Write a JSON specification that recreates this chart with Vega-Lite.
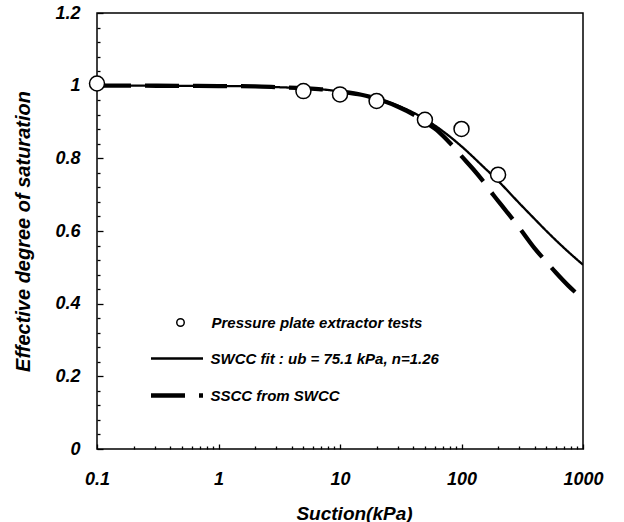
{
  "$schema": "https://vega.github.io/schema/vega-lite/v6.json",
  "width": 486,
  "height": 436,
  "autosize": {"type": "none"},
  "padding": {"left": 97, "top": 13, "right": 41, "bottom": 73},
  "background": "white",
  "config": {
    "view": {"stroke": "black", "strokeWidth": 1.5},
    "font": "Liberation Sans",
    "axis": {
      "grid": false,
      "domain": false,
      "tickColor": "black",
      "tickWidth": 1.3,
      "labelFont": "Liberation Sans",
      "labelFontStyle": "italic",
      "labelFontWeight": "bold",
      "labelFontSize": 18,
      "labelColor": "black",
      "titleFont": "Liberation Sans",
      "titleFontStyle": "italic",
      "titleFontWeight": "bold",
      "titleFontSize": 19,
      "titleColor": "black"
    },
    "legend": {
      "labelFont": "Liberation Sans",
      "labelFontStyle": "italic",
      "labelFontWeight": "bold",
      "labelFontSize": 15,
      "labelColor": "black",
      "labelLimit": 400,
      "padding": 0
    }
  },
  "datasets": {
    "curves": [
      {"suction": 0.1, "se": 1.0, "series": "SWCC fit : ub = 75.1 kPa, n=1.26"},
      {"suction": 0.2, "se": 0.9999, "series": "SWCC fit : ub = 75.1 kPa, n=1.26"},
      {"suction": 0.5, "se": 0.9996, "series": "SWCC fit : ub = 75.1 kPa, n=1.26"},
      {"suction": 1, "se": 0.999, "series": "SWCC fit : ub = 75.1 kPa, n=1.26"},
      {"suction": 2, "se": 0.998, "series": "SWCC fit : ub = 75.1 kPa, n=1.26"},
      {"suction": 3, "se": 0.996, "series": "SWCC fit : ub = 75.1 kPa, n=1.26"},
      {"suction": 5, "se": 0.993, "series": "SWCC fit : ub = 75.1 kPa, n=1.26"},
      {"suction": 7, "se": 0.99, "series": "SWCC fit : ub = 75.1 kPa, n=1.26"},
      {"suction": 10, "se": 0.984, "series": "SWCC fit : ub = 75.1 kPa, n=1.26"},
      {"suction": 15, "se": 0.975, "series": "SWCC fit : ub = 75.1 kPa, n=1.26"},
      {"suction": 20, "se": 0.965, "series": "SWCC fit : ub = 75.1 kPa, n=1.26"},
      {"suction": 30, "se": 0.945, "series": "SWCC fit : ub = 75.1 kPa, n=1.26"},
      {"suction": 40, "se": 0.926, "series": "SWCC fit : ub = 75.1 kPa, n=1.26"},
      {"suction": 50, "se": 0.908, "series": "SWCC fit : ub = 75.1 kPa, n=1.26"},
      {"suction": 70, "se": 0.875, "series": "SWCC fit : ub = 75.1 kPa, n=1.26"},
      {"suction": 100, "se": 0.833, "series": "SWCC fit : ub = 75.1 kPa, n=1.26"},
      {"suction": 150, "se": 0.778, "series": "SWCC fit : ub = 75.1 kPa, n=1.26"},
      {"suction": 200, "se": 0.738, "series": "SWCC fit : ub = 75.1 kPa, n=1.26"},
      {"suction": 300, "se": 0.676, "series": "SWCC fit : ub = 75.1 kPa, n=1.26"},
      {"suction": 400, "se": 0.633, "series": "SWCC fit : ub = 75.1 kPa, n=1.26"},
      {"suction": 500, "se": 0.6, "series": "SWCC fit : ub = 75.1 kPa, n=1.26"},
      {"suction": 700, "se": 0.553, "series": "SWCC fit : ub = 75.1 kPa, n=1.26"},
      {"suction": 1000, "se": 0.507, "series": "SWCC fit : ub = 75.1 kPa, n=1.26"},
      {"suction": 0.1, "se": 1.0, "series": "SSCC from SWCC"},
      {"suction": 0.2, "se": 0.9999, "series": "SSCC from SWCC"},
      {"suction": 0.5, "se": 0.9996, "series": "SSCC from SWCC"},
      {"suction": 1, "se": 0.999, "series": "SSCC from SWCC"},
      {"suction": 2, "se": 0.998, "series": "SSCC from SWCC"},
      {"suction": 3, "se": 0.996, "series": "SSCC from SWCC"},
      {"suction": 5, "se": 0.993, "series": "SSCC from SWCC"},
      {"suction": 7, "se": 0.99, "series": "SSCC from SWCC"},
      {"suction": 10, "se": 0.984, "series": "SSCC from SWCC"},
      {"suction": 15, "se": 0.975, "series": "SSCC from SWCC"},
      {"suction": 20, "se": 0.964, "series": "SSCC from SWCC"},
      {"suction": 30, "se": 0.942, "series": "SSCC from SWCC"},
      {"suction": 40, "se": 0.921, "series": "SSCC from SWCC"},
      {"suction": 50, "se": 0.9, "series": "SSCC from SWCC"},
      {"suction": 65, "se": 0.873, "series": "SSCC from SWCC"},
      {"suction": 80, "se": 0.843, "series": "SSCC from SWCC"},
      {"suction": 100, "se": 0.806, "series": "SSCC from SWCC"},
      {"suction": 125, "se": 0.77, "series": "SSCC from SWCC"},
      {"suction": 150, "se": 0.738, "series": "SSCC from SWCC"},
      {"suction": 183, "se": 0.699, "series": "SSCC from SWCC"},
      {"suction": 224, "se": 0.6625, "series": "SSCC from SWCC"},
      {"suction": 300, "se": 0.608, "series": "SSCC from SWCC"},
      {"suction": 400, "se": 0.552, "series": "SSCC from SWCC"},
      {"suction": 500, "se": 0.515, "series": "SSCC from SWCC"},
      {"suction": 600, "se": 0.485, "series": "SSCC from SWCC"},
      {"suction": 760, "se": 0.449, "series": "SSCC from SWCC"},
      {"suction": 880, "se": 0.429, "series": "SSCC from SWCC"},
      {"suction": 1000, "se": 0.412, "series": "SSCC from SWCC"}
    ],
    "tests": [
      {"suction": 0.1, "se": 1.006, "series": "Pressure plate extractor tests"},
      {"suction": 5, "se": 0.985, "series": "Pressure plate extractor tests"},
      {"suction": 10, "se": 0.976, "series": "Pressure plate extractor tests"},
      {"suction": 20, "se": 0.958, "series": "Pressure plate extractor tests"},
      {"suction": 50, "se": 0.906, "series": "Pressure plate extractor tests"},
      {"suction": 100, "se": 0.881, "series": "Pressure plate extractor tests"},
      {"suction": 200, "se": 0.755, "series": "Pressure plate extractor tests"}
    ]
  },
  "resolve": {"axis": {"x": "independent", "y": "independent"}, "scale": {"x": "shared", "y": "shared"}},
  "layer": [
    {
      "data": {"name": "curves"},
      "mark": {"type": "line", "interpolate": "monotone", "color": "black", "clip": true},
      "encoding": {
        "x": {
          "field": "suction", "type": "quantitative",
          "scale": {"type": "log", "domain": [0.1, 1000], "nice": false},
          "axis": {
            "orient": "bottom",
            "title": "Suction(kPa)",
            "values": [0.1, 1, 10, 100, 1000],
            "format": "~g",
            "tickSize": -5,
            "labelPadding": 26,
            "labelFlush": false,
            "labelOverlap": false,
            "titleX": 257,
            "titlePadding": 16
          }
        },
        "y": {
          "field": "se", "type": "quantitative",
          "scale": {"domain": [0, 1.2], "nice": false, "zero": false},
          "axis": {
            "orient": "left",
            "title": "Effective degree of saturation",
            "titleFontSize": 20,
            "values": [0, 0.2, 0.4, 0.6, 0.8, 1, 1.2],
            "format": "~g",
            "tickSize": -6,
            "labelPadding": 23,
            "labelFlush": false,
            "labelOverlap": false,
            "titlePadding": 21
          }
        },
        "strokeDash": {
          "field": "series", "type": "nominal",
          "scale": {"domain": ["SWCC fit : ub = 75.1 kPa, n=1.26", "SSCC from SWCC"], "range": [[1, 0], [34, 14]]},
          "legend": {"title": null, "orient": "none", "legendX": 51.5, "legendY": 318, "symbolType": "stroke", "symbolSize": 2704, "labelOffset": 5, "rowPadding": 0, "symbolStrokeColor": "black"}
        },
        "strokeWidth": {
          "field": "series", "type": "nominal",
          "scale": {"domain": ["SWCC fit : ub = 75.1 kPa, n=1.26", "SSCC from SWCC"], "range": [2.3, 4.3]},
          "legend": {"title": null, "orient": "none", "legendX": 51.5, "legendY": 318, "symbolType": "stroke", "symbolSize": 2704, "labelOffset": 5, "rowPadding": 0, "symbolStrokeColor": "black"}
        }
      }
    },
    {
      "data": {"name": "tests"},
      "mark": {"type": "point", "filled": true, "fill": "white", "stroke": "black", "strokeWidth": 1.5, "size": 225, "opacity": 1, "clip": false},
      "encoding": {
        "x": {
          "field": "suction", "type": "quantitative",
          "axis": {
            "orient": "bottom",
            "title": null,
            "values": [0.2, 0.3, 0.4, 0.5, 0.6, 0.7, 0.8, 0.9, 2, 3, 4, 5, 6, 7, 8, 9, 20, 30, 40, 50, 60, 70, 80, 90, 200, 300, 400, 500, 600, 700, 800, 900],
            "labels": false,
            "tickSize": -3
          }
        },
        "y": {
          "field": "se", "type": "quantitative",
          "axis": {
            "orient": "left",
            "title": null,
            "values": [0.04, 0.08, 0.12, 0.16, 0.24, 0.28, 0.32, 0.36, 0.44, 0.48, 0.52, 0.56, 0.64, 0.68, 0.72, 0.76, 0.84, 0.88, 0.92, 0.96, 1.04, 1.08, 1.12, 1.16],
            "labels": false,
            "tickSize": -3
          }
        },
        "shape": {
          "field": "series", "type": "nominal",
          "scale": {"range": ["circle"]},
          "legend": {
            "title": null, "orient": "none", "legendX": 76, "legendY": 302, "symbolSize": 56, "labelOffset": 23.5,
            "encode": {"symbols": {"update": {"fill": {"value": "white"}, "stroke": {"value": "black"}, "strokeWidth": {"value": 1.5}, "opacity": {"value": 1}}}}
          }
        }
      }
    }
  ]
}
